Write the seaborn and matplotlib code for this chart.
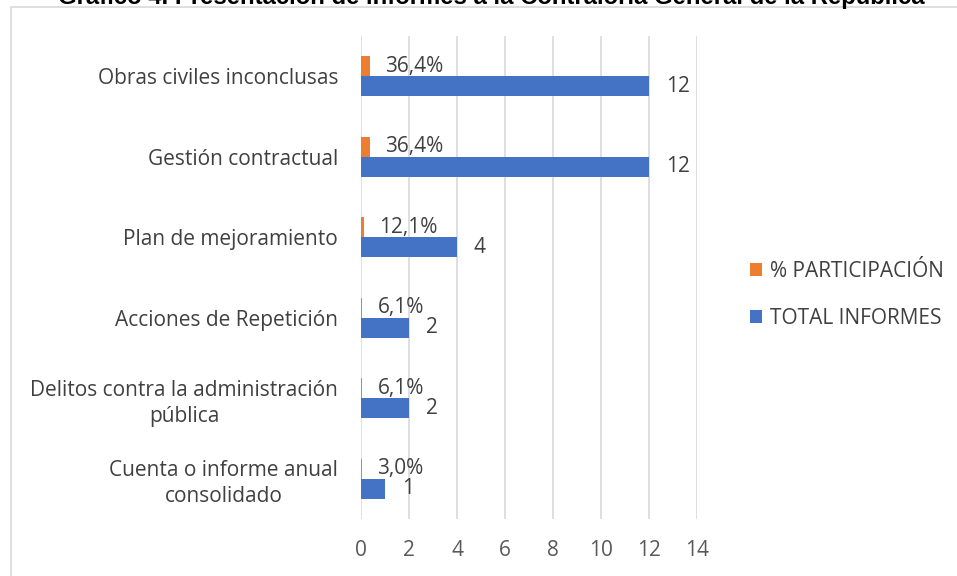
import matplotlib
matplotlib.use("Agg")
import matplotlib.pyplot as plt
import seaborn as sns
import pandas as pd
from matplotlib.patches import Rectangle

# Data
categories = [
    "Obras civiles inconclusas",
    "Gestión contractual",
    "Plan de mejoramiento",
    "Acciones de Repetición",
    "Delitos contra la administración\npública",
    "Cuenta o informe anual\nconsolidado",
]
total_informes = [12, 12, 4, 2, 2, 1]
participacion = [0.364, 0.364, 0.121, 0.061, 0.061, 0.030]
pct_labels = ["36,4%", "36,4%", "12,1%", "6,1%", "6,1%", "3,0%"]
series = ["% PARTICIPACIÓN", "TOTAL INFORMES"]
colors = ["#ED7D31", "#4472C4"]
x_ticks = [0, 2, 4, 6, 8, 10, 12, 14]

df = pd.DataFrame({
    "categoria": categories * 2,
    "valor": participacion + total_informes,
    "serie": [series[0]] * len(categories) + [series[1]] * len(categories),
})

sns.set_style("white")
plt.rcParams["font.family"] = ["Open Sans", "DejaVu Sans"]
text_color = "#404040"
tick_color = "#595959"
fs = 15

fig = plt.figure(figsize=(9.57, 5.76), dpi=100)
ax = fig.add_axes([361 / 957, 1 - 519 / 576, (697 - 361) / 957, (519 - 36) / 576])

sns.barplot(data=df, y="categoria", x="valor", hue="serie", hue_order=series,
            palette=colors, orient="h", width=0.5, gap=0, saturation=1,
            edgecolor="none", ax=ax)

ax.set_xlim(0, 14)
ax.set_xticks(x_ticks)
ax.set_ylim(len(categories) - 0.5, -0.5)
ax.xaxis.grid(True, color="#d9d9d9", linewidth=1.2)
ax.yaxis.grid(False)
ax.set_axisbelow(True)
for s in ax.spines.values():
    s.set_visible(False)
ax.set_xlabel("")
ax.set_ylabel("")
ax.tick_params(axis="x", length=0, pad=15, labelsize=fs, labelcolor=tick_color)
ax.tick_params(axis="y", length=0, pad=14, labelsize=fs, labelcolor=text_color)
for lbl in ax.get_yticklabels():
    lbl.set_horizontalalignment("center")
    lbl.set_multialignment("center")
    lbl.set_linespacing(1.3)
# shift centered labels so their right edge sits near the axis
fig.canvas.draw()
renderer = fig.canvas.get_renderer()
for lbl in ax.get_yticklabels():
    w = lbl.get_window_extent(renderer).width
    lbl.set_x(0)
    lbl.set_transform(ax.get_yaxis_transform() +
                      matplotlib.transforms.ScaledTranslation(-(w / 2 + 23) / 100, 0, fig.dpi_scale_trans))

# value labels
ax.bar_label(ax.containers[0], labels=pct_labels, padding=11, fontsize=fs, color=text_color)
ax.bar_label(ax.containers[1], labels=[str(v) for v in total_informes], padding=12,
             fontsize=fs, color=text_color)

leg = ax.legend(loc="center left", bbox_to_anchor=(731 / 957, 1 - 295 / 576),
                bbox_transform=fig.transFigure, frameon=False, fontsize=fs,
                handlelength=0.6, handleheight=0.6, handletextpad=0.35,
                labelspacing=1.25)
for t in leg.get_texts():
    t.set_color(text_color)

# chart frame and title (cut by the top edge, as in the source image)
fig.patches.append(Rectangle((11 / 957, -0.1), 1.2, 1 - 7 / 576 + 0.1,
                             transform=fig.transFigure, fill=False,
                             edgecolor="#d9d9d9", linewidth=1.2))
fig.text(491 / 957, 1 - 4 / 576,
         "Gráfico 4. Presentación de informes a la Contraloría General de la República",
         ha="center", va="baseline", fontsize=17.2, fontweight="bold",
         family=["Liberation Sans", "DejaVu Sans"], color="black")

fig.savefig("out.png", dpi=100)
